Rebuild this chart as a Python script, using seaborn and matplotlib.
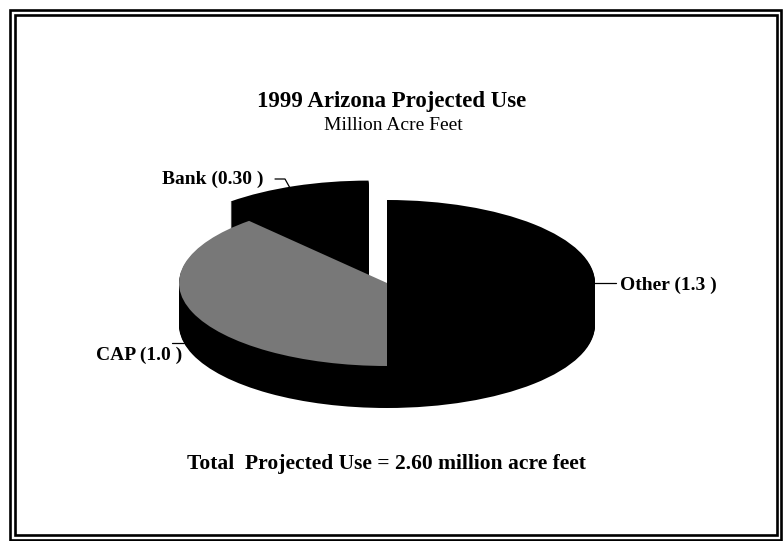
import numpy as np
import matplotlib
matplotlib.use("Agg")
import matplotlib.pyplot as plt
import matplotlib.transforms as mtransforms
from matplotlib.patches import Rectangle
import seaborn as sns

# ---- data ----
categories = ["Other", "CAP", "Bank"]
values = [1.3, 1.0, 0.30]
value_labels = ["Other (1.3 )", "CAP (1.0 )", "Bank (0.30 )"]
title = "1999 Arizona Projected Use"
subtitle = "Million Acre Feet"
footer = "Total  Projected Use = 2.60 million acre feet"

sns.set_theme(style="white")
plt.rcParams["font.family"] = ["Liberation Serif", "DejaVu Serif"]
plt.rcParams["text.color"] = "black"

W, H = 783, 541
fig = plt.figure(figsize=(W / 100, H / 100), dpi=100)
fig.patch.set_facecolor("white")
ax = fig.add_axes([0, 0, 1, 1])

# pie geometry (pixel units)
cx, cy_px = 387, 283
cy = H - cy_px
rx, ry = 208, 83
depth = 42
s = ry / rx
top_colors = ["black", "#787878", "black"]
explode_frac = [0, 0, 0.25]
explode = [e * rx for e in explode_frac]

def draw_pie(offset, colors):
    wedges, _ = ax.pie(values, radius=rx, startangle=90, counterclock=False,
                       explode=explode, colors=colors,
                       wedgeprops=dict(linewidth=0, antialiased=True))
    tr = mtransforms.Affine2D().scale(1, s).translate(cx, cy - offset) + ax.transData
    for w in wedges:
        w.set_transform(tr)
    return wedges

for k in np.arange(depth, 0, -1.0):
    draw_pie(k, ["black"] * len(values))
draw_pie(0, top_colors)

ax.set_xlim(0, W)
ax.set_ylim(0, H)
ax.set_aspect("auto")
ax.axis("off")

def P(x, y):
    return x, H - y

# leader lines
lk = dict(color="black", lw=0.9)
ax.plot(*zip(P(275, 179), P(285, 179), P(290, 188)), **lk)
ax.plot(*zip(P(172, 343), P(184, 343)), **lk)
ax.plot(*zip(P(594, 283), P(616, 283)), **lk)

lab = dict(fontsize=14, fontweight="bold", color="black", va="center")
ax.text(*P(264, 179), value_labels[2], ha="right", **lab)
ax.text(*P(182, 355), value_labels[1], ha="right", **lab)
ax.text(*P(620, 285), value_labels[0], ha="left", **lab)

ax.text(*P(392, 101), title, ha="center", va="center", fontsize=16.5,
        fontweight="bold", color="black")
ax.text(*P(393, 126), subtitle, ha="center", va="center", fontsize=14,
        color="black")
ax.text(*P(386, 464), footer, ha="center", va="center", fontsize=15.5,
        fontweight="bold", color="black")

# double frame
for (x0, y0, x1, y1) in [(9.7, 10.3, 781.0, 539.7), (15.3, 15.3, 777.3, 535.3)]:
    fig.patches.append(Rectangle((x0 / W, 1 - y1 / H), (x1 - x0) / W, (y1 - y0) / H,
                                 transform=fig.transFigure, fill=False,
                                 edgecolor="black", linewidth=1.9))

fig.savefig("out.png", dpi=100)
